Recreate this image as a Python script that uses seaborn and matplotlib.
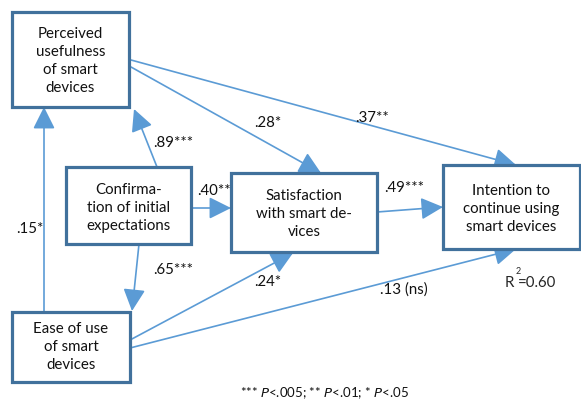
import matplotlib
matplotlib.use("Agg")
import matplotlib.pyplot as plt
import seaborn as sns
from matplotlib.patches import Rectangle

# constructs in the model
node_names = ["pu", "conf", "sat", "int", "ease"]
node_labels = ["Perceived\nusefulness\nof smart\ndevices",
               "Confirma-\ntion of initial\nexpectations",
               "Satisfaction\nwith smart de-\nvices",
               "Intention to\ncontinue using\nsmart devices",
               "Ease of use\nof smart\ndevices"]

# paths: source, target, coefficient
path_from = ["ease", "conf", "pu", "pu", "conf", "sat", "conf", "ease", "ease"]
path_to = ["pu", "pu", "sat", "int", "sat", "int", "ease", "sat", "int"]
path_coef = [".15*", ".89***", ".28*", ".37**", ".40**", ".49***", ".65***", ".24*", ".13 (ns)"]

r_squared = "0.60"
footnote = "*** P<.005; ** P<.01; * P<.05"

# layout in pixel units (x0, y0, x1, y1)
boxes = {"pu": (12, 12, 129, 107), "conf": (66, 167, 191, 244),
         "sat": (231, 173, 377, 252), "int": (443, 165, 580, 249),
         "ease": (12, 312, 130, 382)}
text_y = {"pu": 61, "conf": 208, "sat": 214, "int": 209, "ease": 347}
ends = [((44, 312), (44, 107)), ((157, 167), (134, 109)), ((131, 67), (321, 173)),
        ((131, 60), (516, 165)), ((191, 208), (231, 208)), ((377, 212), (443, 207)),
        ((139, 244), (132, 311)), ((130, 340), (293, 253)), ((130, 348), (516, 249))]
label_xy = [(30, 229), (173, 143), (268, 123), (372, 118), (214, 191),
            (404, 188), (173, 270), (268, 282), (404, 290)]

sns.set_theme(style="white")
plt.rcParams['font.family'] = ['Lato', 'DejaVu Sans']

fig = plt.figure(figsize=(5.81, 4.03), dpi=100)
ax = fig.add_axes([0, 0, 1, 1])
ax.set_xlim(0, 581)
ax.set_ylim(403, 0)
ax.axis('off')

box_col = "#41719C"
arrow_col = "#5B9BD5"

for name, label in zip(node_names, node_labels):
    x0, y0, x1, y1 = boxes[name]
    ax.add_patch(Rectangle((x0, y0), x1 - x0, y1 - y0, fill=True, facecolor="white",
                           edgecolor=box_col, lw=2.3, zorder=3))
    ax.text((x0 + x1) / 2, text_y[name], label, ha="center", va="center",
            fontsize=10.8, linespacing=1.35, color="#111111", zorder=4)

for (start, end), coef, (lx, ly) in zip(ends, path_coef, label_xy):
    ax.annotate("", xy=end, xytext=start,
                arrowprops=dict(arrowstyle="-|>,head_length=0.9,head_width=0.45",
                                color=arrow_col, lw=1.2, shrinkA=0, shrinkB=0,
                                mutation_scale=15), zorder=2)
    ax.text(lx, ly, coef, ha="center", va="center", fontsize=10.8, color="#111111")

ax.text(509, 283, "R", ha="center", va="center", fontsize=10.8)
ax.text(518, 271, "2", ha="center", va="center", fontsize=6.5)
ax.text(537, 283, "=" + r_squared, ha="center", va="center", fontsize=10.8)

ax.text(325, 393, "*** $P$<.005; ** $P$<.01; * $P$<.05", ha="center", va="center",
        fontsize=9.5, color="#111111")

fig.savefig("out.png", dpi=100)
